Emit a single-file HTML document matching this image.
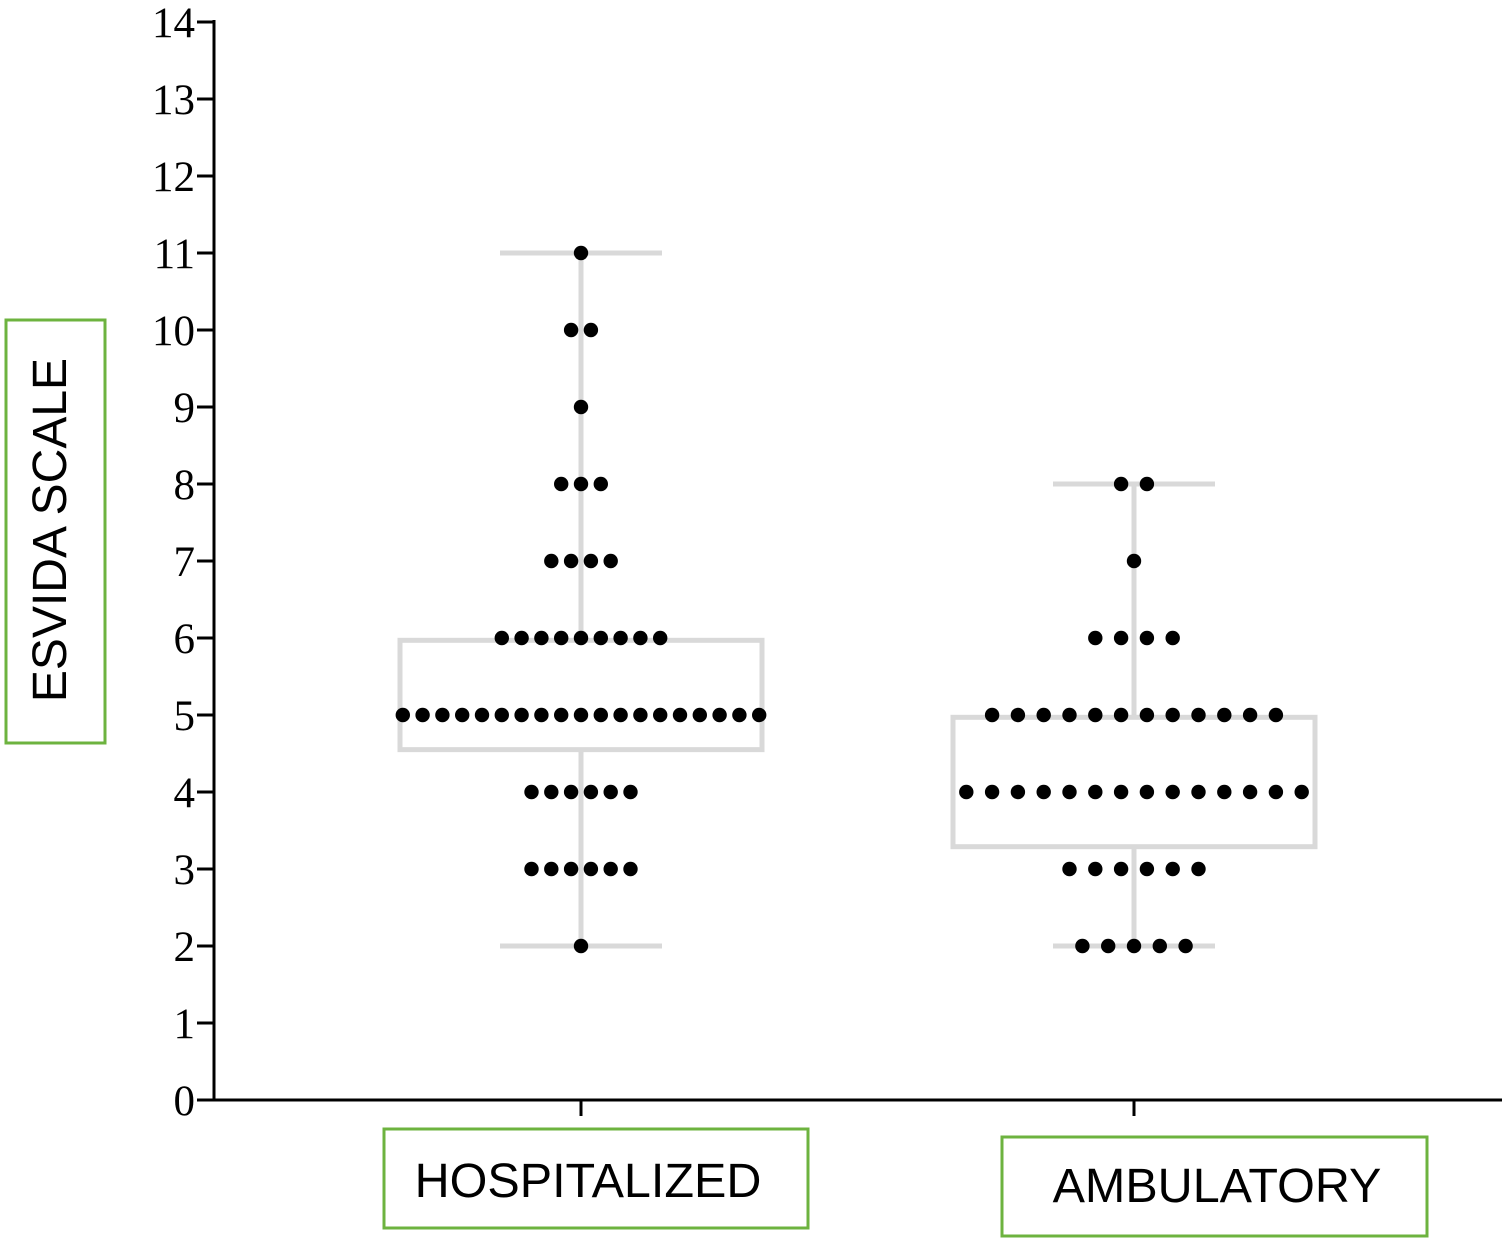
<!DOCTYPE html>
<html><head><meta charset="utf-8"><style>
body{margin:0;background:#fff;width:1508px;height:1243px;overflow:hidden}
svg{display:block}
</style></head><body>
<svg id="chart" width="1508" height="1243" xmlns="http://www.w3.org/2000/svg">
<rect x="6" y="320" width="99" height="423" fill="none" stroke="#6db33f" stroke-width="3"/>
<text transform="translate(66,530) rotate(-90)" text-anchor="middle" font-family="Liberation Sans, sans-serif" font-size="48" fill="#000">ESVIDA SCALE</text>
<rect x="384" y="1129" width="424" height="99" fill="none" stroke="#6db33f" stroke-width="3"/>
<text x="588" y="1197" text-anchor="middle" font-family="Liberation Sans, sans-serif" font-size="48.5" fill="#000">HOSPITALIZED</text>
<rect x="1002" y="1137" width="425" height="99" fill="none" stroke="#6db33f" stroke-width="3"/>
<text x="1217" y="1202" text-anchor="middle" font-family="Liberation Sans, sans-serif" font-size="48.5" fill="#000">AMBULATORY</text>
<g id="plot"></g>
</svg>
<script>
const categories = ["HOSPITALIZED","AMBULATORY"];
const yTicks = [0,1,2,3,4,5,6,7,8,9,10,11,12,13,14];
const levels = [2,3,4,5,6,7,8,9,10,11];
const hospCounts = [1,6,6,19,9,4,3,1,2,1];
const ambCounts = [5,6,14,12,4,1,2,0,0,0];
const boxQ1 = [4.55,3.29];
const boxQ3 = [5.97,4.97];
const whiskMin = [2,2];
const whiskMax = [11,8];

const NS="http://www.w3.org/2000/svg";
const g=document.getElementById('plot');
const y0=1100, unit=77, axX=214;
const yS=v=>y0-v*unit;
const xC=[581,1134];
const halfBox=181, halfCap=81;
const spacing=[19.8,25.8];
function mk(tag,attrs){const e=document.createElementNS(NS,tag);for(const k in attrs)e.setAttribute(k,attrs[k]);g.appendChild(e);return e;}

let e=mk('line',{x1:axX,y1:20,x2:axX,y2:y0,stroke:'#000','stroke-width':3});


e=mk('line',{x1:197,y1:y0,x2:1502,y2:y0,stroke:'#000','stroke-width':3});


yTicks.forEach(t=>{
  const y=yS(t);
  let l=mk('line',{x1:197,y1:y,x2:axX,y2:y,stroke:'#000','stroke-width':3});
  
  
  let tx=mk('text',{x:195,y:y+15,'text-anchor':'end','font-family':'Liberation Serif, serif','font-size':43,fill:'#000'});
  tx.textContent=t;
  
  
});
categories.forEach((c,i)=>{
  let l=mk('line',{x1:xC[i],y1:y0,x2:xC[i],y2:1116,stroke:'#000','stroke-width':3});
  
  
});
categories.forEach((c,i)=>{
  const col='#d9d9d9',w=5;
  let l=mk('line',{x1:xC[i],y1:yS(whiskMax[i]),x2:xC[i],y2:yS(whiskMin[i]),stroke:col,'stroke-width':w});
  
  
  [whiskMin[i],whiskMax[i]].forEach(v=>{
    let cp=mk('line',{x1:xC[i]-halfCap,y1:yS(v),x2:xC[i]+halfCap,y2:yS(v),stroke:col,'stroke-width':w});
    
    
  });
  let r=mk('rect',{x:xC[i]-halfBox,y:yS(boxQ3[i]),width:2*halfBox,height:yS(boxQ1[i])-yS(boxQ3[i]),fill:'#fff',stroke:col,'stroke-width':w});
  
  
  const counts=i===0?hospCounts:ambCounts;
  levels.forEach((lv,j)=>{
    const n=counts[j];
    for(let k=0;k<n;k++){
      const x=xC[i]+(k-(n-1)/2)*spacing[i];
      let d=mk('circle',{cx:x,cy:yS(lv),r:7.2,fill:'#000'});
      
      
    }
  });
});
</script>
</body></html>
